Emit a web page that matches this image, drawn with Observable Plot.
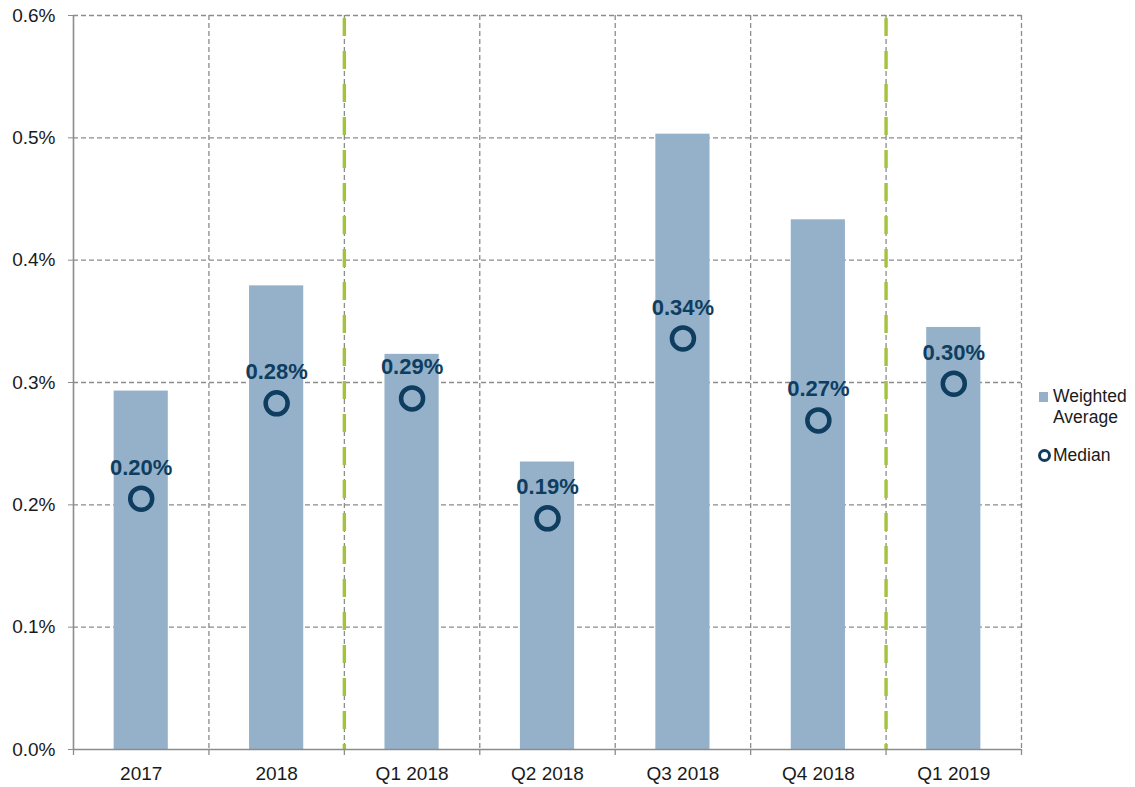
<!DOCTYPE html>
<html>
<head>
<meta charset="utf-8">
<script src="https://cdn.jsdelivr.net/npm/d3@7"></script>
<script src="https://cdn.jsdelivr.net/npm/@observablehq/plot@0.6"></script>
<style>
  html, body { margin: 0; padding: 0; background: #fff; }
  #wrap { position: relative; width: 1135px; height: 787px; font-family: 'Liberation Sans', Arial, sans-serif; }
  #legend { position: absolute; left: 1036px; top: 386px; font-size: 17.5px; color: #1a1a1a; line-height: 21px; }
  .row { position: relative; padding-left: 17px; }
  .sq { position: absolute; left: 3px; top: 6px; width: 9px; height: 10px; background: #94b1c9; }
  .ci { position: absolute; left: 2px; top: 4px; width: 7px; height: 7px; border: 3.5px solid #0e3d60; border-radius: 50%; }
</style>
</head>
<body>
<div id="wrap">
  <div id="chart"></div>
  <div id="legend">
    <div class="row"><span class="sq"></span>Weighted<br>Average</div>
    <div class="row" style="margin-top:17px"><span class="ci"></span>Median</div>
  </div>
</div>
<script>
const categories = ["2017", "2018", "Q1 2018", "Q2 2018", "Q3 2018", "Q4 2018", "Q1 2019"];
const weightedAverage = [0.293, 0.379, 0.323, 0.235, 0.503, 0.433, 0.345];
const median = [0.205, 0.283, 0.287, 0.189, 0.336, 0.269, 0.299];
const medianLabels = ["0.20%", "0.28%", "0.29%", "0.19%", "0.34%", "0.27%", "0.30%"];
const yTicks = [0, 0.1, 0.2, 0.3, 0.4, 0.5, 0.6];
// period separators drawn after these categories
const breakAfter = ["2018", "Q4 2018"];

const data = categories.map((c, i) => ({i, cat: c, avg: weightedAverage[i], med: median[i], label: medianLabels[i]}));
const idx = categories.map((c, i) => i);
const bounds = [-0.5, ...idx.map(i => i + 0.5)];
const breaks = breakAfter.map(c => categories.indexOf(c) + 0.5);
const grid = "#8c8c8c";

const chart = Plot.plot({
  width: 1135,
  height: 787,
  marginLeft: 73,
  marginRight: 114,
  marginTop: 15,
  marginBottom: 38,
  x: {type: "linear", domain: [-0.5, categories.length - 0.5]},
  y: {domain: [0, 0.6]},
  style: {fontFamily: "'Liberation Sans', Arial, sans-serif", fontSize: "19px", color: "#1a1a1a", background: "white", overflow: "visible"},
  marks: [
    Plot.ruleY(yTicks.filter(d => d > 0), {stroke: grid, strokeWidth: 1.3, strokeDasharray: "5,3"}),
    Plot.ruleX(bounds.filter(d => d > -0.5), {stroke: grid, strokeWidth: 1.3, strokeDasharray: "5,3"}),
    Plot.rectY(data, {x1: d => d.i - 0.2, x2: d => d.i + 0.2, y: "avg", fill: "#94b1c9"}),
    Plot.ruleX(breaks, {stroke: "#a3c33c", strokeWidth: 3.4, strokeDasharray: "18,15", strokeDashoffset: -3}),
    Plot.axisY({ticks: yTicks, tickFormat: d => d.toFixed(1) + "%", tickSize: 5, tickPadding: 13, stroke: grid, fill: "#1a1a1a", fontSize: 19, label: null}),
    Plot.axisX({ticks: idx, tickFormat: i => categories[i], tickSize: 0, tickPadding: 17, fill: "#1a1a1a", fontSize: 19, label: null}),
    Plot.axisX({ticks: bounds, tickFormat: () => "", tickSize: 6, stroke: grid, strokeWidth: 1.3, label: null}),
    Plot.ruleX([-0.5], {stroke: grid, strokeWidth: 1.6}),
    Plot.ruleY([0], {stroke: grid, strokeWidth: 1.6}),
    Plot.dot(data, {x: "i", y: "med", r: 11, stroke: "#0e3d60", strokeWidth: 4.5, fill: "none"}),
    Plot.text(data, {x: "i", y: "med", text: "label", dy: -31, fill: "#0e3d60", fontWeight: "bold", fontSize: 22})
  ]
});
document.getElementById("chart").appendChild(chart);
</script>
</body>
</html>
